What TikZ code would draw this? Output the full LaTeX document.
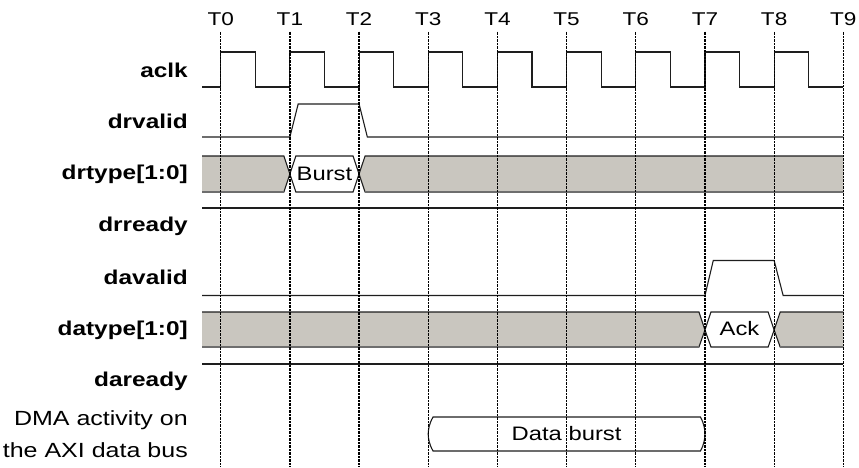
\documentclass[tikz,border=0pt]{standalone}
\usepackage{fontspec}
\setmainfont[FakeStretch=1.22]{Liberation Sans}
\usetikzlibrary{positioning}
\definecolor{wavestroke}{HTML}{1E1E1E}
\definecolor{buslow}{HTML}{6E6E6E}
\definecolor{busfill}{HTML}{C9C6BF}
\definecolor{gridstroke}{HTML}{000000}

\begin{document}
\begin{tikzpicture}[
    x=69.18pt, y=-1pt,
    wave/.style={draw=wavestroke, line width=1.1pt, line join=miter},
    busseg/.style={fill=busfill, draw=wavestroke, line width=1.1pt},
    busval/.style={fill=white, draw=wavestroke, line width=1.1pt},
    edgeline/.style={draw=gridstroke, line width=1.3pt, dash pattern=on 3.5pt off 1pt on 1.5pt off 1pt},
    siglabel/.style={anchor=east, inner sep=0pt, font=\fontsize{20}{24}\selectfont\bfseries},
    buslabel/.style={inner sep=0pt, font=\fontsize{19.5}{24}\selectfont},
    tlabel/.style={inner sep=0pt, font=\fontsize{18.5}{22}\selectfont}
]
  \begin{scope}[xshift=220.7pt]
    \useasboundingbox (-220.7pt,0pt) rectangle (638.3pt,-467pt);

    % Signal names
    \node[siglabel] (aclk) at (-0.4727,70) {aclk};
    \node[siglabel] (drvalid) at (-0.4727,121) {drvalid};
    \node[siglabel] (drtype) at (-0.4727,174) {drtype[1:0]};
    \node[siglabel] (drready) at (-0.4727,226) {drready};
    \node[siglabel] (davalid) at (-0.4727,277) {davalid};
    \node[siglabel] (datype) at (-0.4727,330) {datype[1:0]};
    \node[siglabel] (daready) at (-0.4727,381) {daready};
    \node[siglabel, font=\fontsize{20.5}{32}\selectfont, align=right] (dmabus) at (-0.4727,434) {DMA activity on\\the AXI data bus};

    % Clock
    \draw[wave] (-0.27,87) \foreach \i in {0,...,8} { -- (\i,87) -- (\i,52) -- (\i+0.5,52) -- (\i+0.5,87) } -- (9,87);

    % Read request channel
    \draw[wave] (-0.27,137) -- (1,137) -- (1.12,104) -- (2,104) -- (2.12,137) -- (9,137);
    \path[busseg] (-0.27,156) -- (0.913,156) -- (1,174) -- (0.913,192) -- (-0.27,192);
    \path[busval] (1,174) -- (1.087,156) -- (1.913,156) -- (2,174) -- (1.913,192) -- (1.087,192) -- cycle;
    \path[busseg] (9,156) -- (2.087,156) -- (2,174) -- (2.087,192) -- (9,192);
    \draw[buslow, line width=1.1pt] (-0.27,192) -- (0.913,192) (2.087,192) -- (9,192);
    \node[buslabel] (burst) at (1.5,174) {Burst};
    \draw[wave] (-0.27,208) -- (9,208);

    % Acknowledge channel
    \draw[wave] (-0.27,295.5) -- (7,295.5) -- (7.12,260.5) -- (8,260.5) -- (8.13,295.5) -- (9,295.5);
    \path[busseg] (-0.27,312) -- (6.913,312) -- (7,330) -- (6.913,347) -- (-0.27,347);
    \path[busval] (7,330) -- (7.087,312) -- (7.913,312) -- (8,330) -- (7.913,347) -- (7.087,347) -- cycle;
    \path[busseg] (9,312) -- (8.087,312) -- (8,330) -- (8.087,347) -- (9,347);
    \draw[buslow, line width=1.1pt] (-0.27,347) -- (6.913,347) (8.087,347) -- (9,347);
    \node[buslabel] (ack) at (7.5,329) {Ack};
    \draw[wave] (-0.27,364) -- (9,364);

    % Data transfer
    \path[busval] (3.07,417) -- (6.935,417) .. controls (6.99,424) and (7,430) .. (7,434)
      .. controls (7,438) and (6.99,444) .. (6.935,451) -- (3.07,451)
      .. controls (3.01,444) and (3,438) .. (3,434) .. controls (3,430) and (3.01,424) .. (3.07,417) -- cycle;
    \node[buslabel] (databurst) at (5,434) {Data burst};

    % Clock edges
    \foreach \i in {0,...,9} {
      \node[tlabel] (t\i) at (\i,19) {T\i};
      \coordinate (e\i) at (\i,467);
      \path[edgeline] (t\i.south) ++(0,-6pt) -- (e\i);
    }
  \end{scope}
\end{tikzpicture}
\end{document}
